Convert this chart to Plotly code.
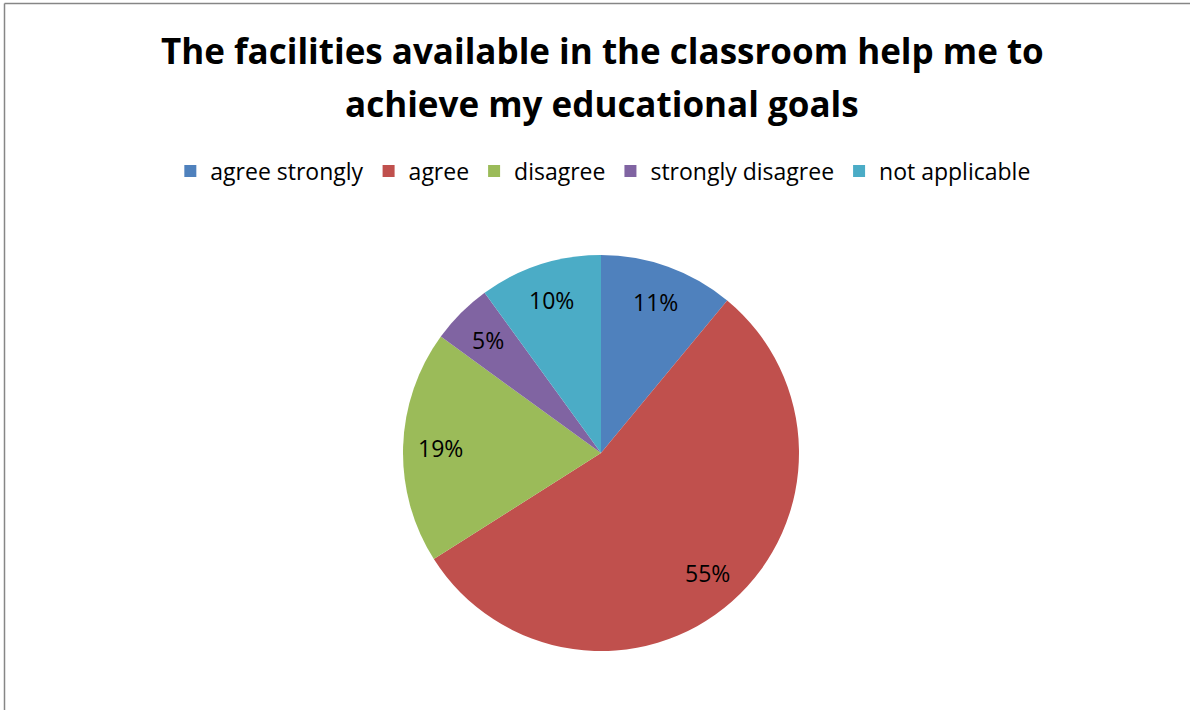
import math
import plotly.graph_objects as go

categories = ["agree strongly", "agree", "disagree", "strongly disagree", "not applicable"]
values = [11, 55, 19, 5, 10]
colors = ["#4F81BD", "#C0504D", "#9BBB59", "#8064A2", "#4BACC6"]
title_lines = ["The facilities available in the classroom help me to",
               "achieve my educational goals"]

W, H = 1190, 710
FONT = "Open Sans"

# pie geometry (pixels)
CX, CY, R = 601, 453, 198
LABEL_R = 0.81

fig = go.Figure(go.Pie(
    labels=categories,
    values=values,
    marker=dict(colors=colors, line=dict(width=0)),
    sort=False,
    direction="clockwise",
    rotation=0,
    textinfo="none",
    domain=dict(x=[(CX - R) / W, (CX + R) / W], y=[1 - (CY + R) / H, 1 - (CY - R) / H]),
    showlegend=True,
))

# percentage labels placed at slice mid-angles computed from the values
total = sum(values)
annotations = []
cum = 0
for v in values:
    mid = (cum + v / 2) / total * 2 * math.pi
    cum += v
    px = CX + LABEL_R * R * math.sin(mid)
    py = CY - LABEL_R * R * math.cos(mid)
    annotations.append(dict(
        x=px / W, y=1 - py / H, xref="paper", yref="paper",
        text=f"{round(v / total * 100)}%", showarrow=False,
        xanchor="center", yanchor="middle",
        font=dict(family=FONT, size=23, color="black"),
    ))

# title lines
for line, cy in zip(title_lines, [50, 103]):
    annotations.append(dict(
        x=0.506, y=1 - cy / H, xref="paper", yref="paper",
        text="<b>" + line + "</b>", showarrow=False,
        xanchor="center", yanchor="middle",
        font=dict(family=FONT, size=35, color="black"),
    ))

fig.update_layout(
    width=W, height=H,
    margin=dict(l=0, r=0, t=0, b=0),
    paper_bgcolor="white",
    plot_bgcolor="white",
    font=dict(family=FONT, color="black"),
    legend=dict(
        orientation="h",
        x=0.507, xanchor="center",
        y=1 - 171 / H, yanchor="middle",
        font=dict(family=FONT, size=23, color="black"),
        traceorder="normal",
        itemwidth=30,
    ),
    annotations=annotations,
    shapes=[
        dict(type="line", xref="paper", yref="paper", x0=4.5 / W, x1=1.02, y0=1 - 3.5 / H, y1=1 - 3.5 / H,
             line=dict(color="#868686", width=1.5)),
        dict(type="line", xref="paper", yref="paper", x0=4.5 / W, x1=4.5 / W, y0=-0.02, y1=1 - 3.5 / H,
             line=dict(color="#868686", width=1.5)),
    ],
)

fig.write_html("out.html", config={"displayModeBar": False},
               post_script="document.body.style.margin='0';")
